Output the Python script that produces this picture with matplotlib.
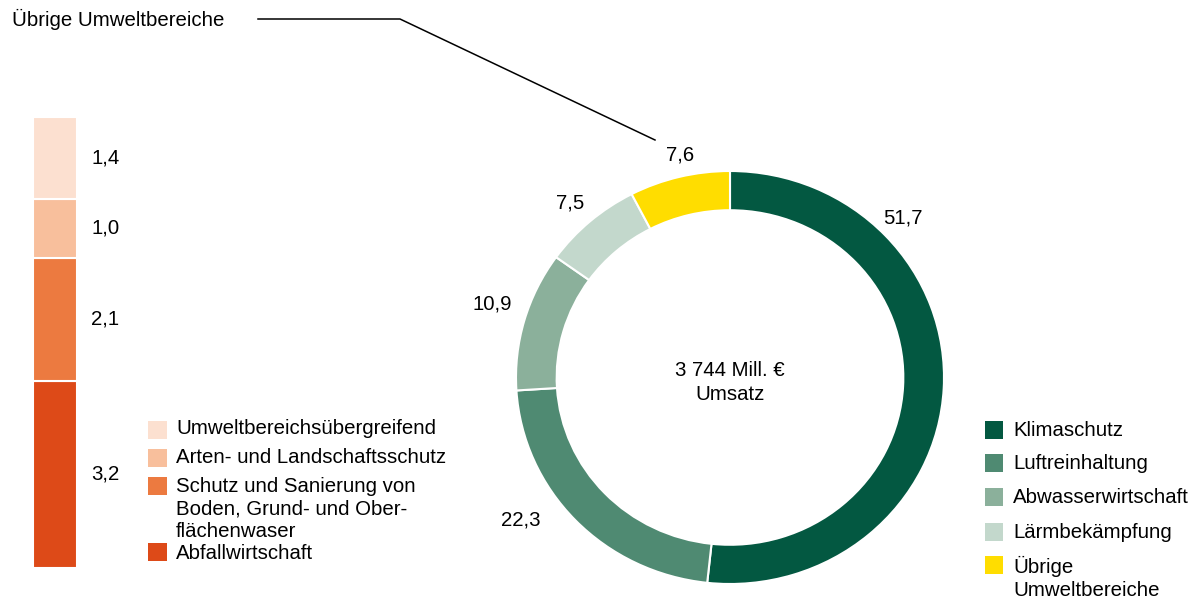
import matplotlib.pyplot as plt
from matplotlib.patches import Rectangle
from matplotlib.lines import Line2D

plt.rcParams['font.family'] = ['Liberation Sans', 'DejaVu Sans']

# donut: shares of total revenue (%)
ring_labels = ["Klimaschutz", "Luftreinhaltung", "Abwasserwirtschaft", "Lärmbekämpfung", "Übrige\nUmweltbereiche"]
ring_values = [51.7, 22.3, 10.9, 7.5, 7.6]
ring_texts = ["51,7", "22,3", "10,9", "7,5", "7,6"]
ring_colors = ["#035841", "#4f8a72", "#8bb09b", "#c3d8cc", "#ffdd00"]

# breakdown of "Übrige Umweltbereiche" (bottom to top)
bar_labels = ["Abfallwirtschaft", "Schutz und Sanierung von\nBoden, Grund- und Ober-\nflächenwaser",
              "Arten- und Landschaftsschutz", "Umweltbereichsübergreifend"]
bar_values = [3.2, 2.1, 1.0, 1.4]
bar_texts = ["3,2", "2,1", "1,0", "1,4"]
bar_colors = ["#dd4a18", "#ec7a40", "#f8bf9c", "#fce0d0"]

W, H = 1200, 601
fig = plt.figure(figsize=(12, 6.01), dpi=100)

def px(x, y):
    # pixel (from top-left) -> figure fraction
    return x / W, 1 - y / H

fs = 14.7
ls = 1.23

# ---- donut ----
pad = 1.06
cx, cy, rx, ry = 730, 377.5, 214, 206.5
ax = fig.add_axes([(cx - rx * pad) / W, 1 - (cy + ry * pad) / H, 2 * rx * pad / W, 2 * ry * pad / H])
wedges, _ = ax.pie(ring_values, colors=ring_colors, startangle=90, counterclock=False,
                   wedgeprops=dict(width=0.19, edgecolor="white", linewidth=1.5))
ax.set_aspect("auto")
ax.set_xlim(-pad, pad)
ax.set_ylim(-pad, pad)
ax.axis("off")

label_pos = [(903, 218), (521, 520), (492, 304), (570, 203), (680, 155)]
for t, (x, y) in zip(ring_texts, label_pos):
    fig.text(*px(x, y), t, fontsize=fs, ha="center", va="center")

fig.text(*px(730, 371), "3 744 Mill. €", fontsize=fs, ha="center", va="center")
fig.text(*px(730, 395), "Umsatz", fontsize=fs, ha="center", va="center")

# legend right
leg_y = [430, 463, 497, 532, 565]
for lab, col, y in zip(ring_labels, ring_colors, leg_y):
    x0, y0 = px(985, y + 9)
    fig.add_artist(Rectangle((x0, y0), 18 / W, 18 / H, facecolor=col, transform=fig.transFigure))
    fig.text(*px(1013, y - 9), lab, fontsize=fs, ha="left", va="top", linespacing=ls)

# ---- stacked bar ----
axb = fig.add_axes([33 / W, 1 - 568 / H, 44 / W, 451 / H])
bottom = 0
for v, c, t in zip(bar_values, bar_colors, bar_texts):
    axb.bar(0, v, bottom=bottom, width=1, color=c, edgecolor="white", linewidth=1.5)
    axb.text(1.32, bottom + v / 2, t, fontsize=fs, ha="left", va="center",
             transform=axb.get_yaxis_transform(), clip_on=False)
    bottom += v
axb.set_xlim(-0.5, 0.5)
axb.set_ylim(0, sum(bar_values))
axb.axis("off")

# legend left (top to bottom)
left_y = [{"box": 430, "text": 428}, {"box": 458, "text": 457},
          {"box": 486, "text": 486}, {"box": 552, "text": 553}]
for lab, col, pos in zip(bar_labels[::-1], bar_colors[::-1], left_y):
    x0, y0 = px(148, pos["box"] + 9)
    fig.add_artist(Rectangle((x0, y0), 19 / W, 18 / H, facecolor=col, transform=fig.transFigure))
    fig.text(*px(176, pos["text"] - 9), lab, fontsize=fs, ha="left", va="top", linespacing=ls)

# leader line to "Übrige Umweltbereiche"
fig.text(*px(12, 19), "Übrige Umweltbereiche", fontsize=fs, ha="left", va="center")
xs, ys = zip(*[px(258, 19), px(400, 19), px(655, 140)])
fig.add_artist(Line2D(xs, ys, color="black", linewidth=1.1, transform=fig.transFigure))

fig.savefig("out.png", dpi=100, facecolor="white")
